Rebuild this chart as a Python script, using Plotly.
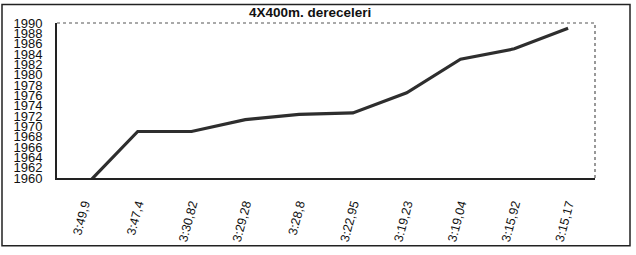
import plotly.graph_objects as go

categories = ["3:49,9", "3:47,4", "3:30,82", "3:29,28", "3:28,8",
              "3:22,95", "3:19,23", "3:19,04", "3:15,92", "3:15,17"]
years = [1958.2, 1969, 1969, 1971.3, 1972.3, 1972.6, 1976.5, 1983, 1985, 1989]
y_ticks = list(range(1960, 1991, 2))
title_text = "4X400m. dereceleri"

W, H = 636, 255
L, R, T, B = 57, 41, 23, 72
pw, ph = W - L - R, H - T - B

def px_x(px):
    return (px - L) / pw

def px_y(py):
    return (H - B - py) / ph

fig = go.Figure()
fig.add_trace(go.Scatter(
    x=categories, y=years, mode="lines",
    line=dict(color="#2e2e2e", width=3.2),
    hoverinfo="skip", showlegend=False,
))

fig.update_layout(
    width=W, height=H,
    margin=dict(l=L, r=R, t=T, b=B),
    paper_bgcolor="white", plot_bgcolor="white",
    font=dict(family="Liberation Sans, Arial, sans-serif", color="#111"),
    xaxis=dict(
        type="category", showgrid=False, zeroline=False,
        showline=True, linecolor="#222", linewidth=2,
        tickangle=-75, tickfont=dict(size=12.5),
        ticks="", ticklabelstandoff=12,
        range=[-0.5, len(categories) - 0.5],
    ),
    yaxis=dict(
        range=[1960, 1990], tickvals=y_ticks, ticktext=[str(v) for v in y_ticks],
        showgrid=False, zeroline=False,
        showline=True, linecolor="#222", linewidth=2,
        tickfont=dict(size=13), ticks="", ticklabelstandoff=10,
    ),
    shapes=[
        dict(type="line", xref="paper", yref="paper", x0=0, x1=1, y0=1, y1=1,
             line=dict(color="#555", width=1.2, dash="dot")),
        dict(type="line", xref="paper", yref="paper", x0=1, x1=1, y0=0, y1=1,
             line=dict(color="#555", width=1.2, dash="dot")),
        dict(type="rect", xref="paper", yref="paper",
             x0=px_x(2), x1=px_x(630), y0=px_y(253), y1=px_y(4),
             line=dict(color="#222", width=1.5), fillcolor="rgba(0,0,0,0)"),
    ],
    annotations=[
        dict(text="<b>" + title_text + "</b>", xref="paper", yref="paper",
             x=px_x(310), y=px_y(12), xanchor="center", yanchor="middle",
             showarrow=False, font=dict(size=13.5, color="#111")),
    ],
)

fig.write_html("out.html")
